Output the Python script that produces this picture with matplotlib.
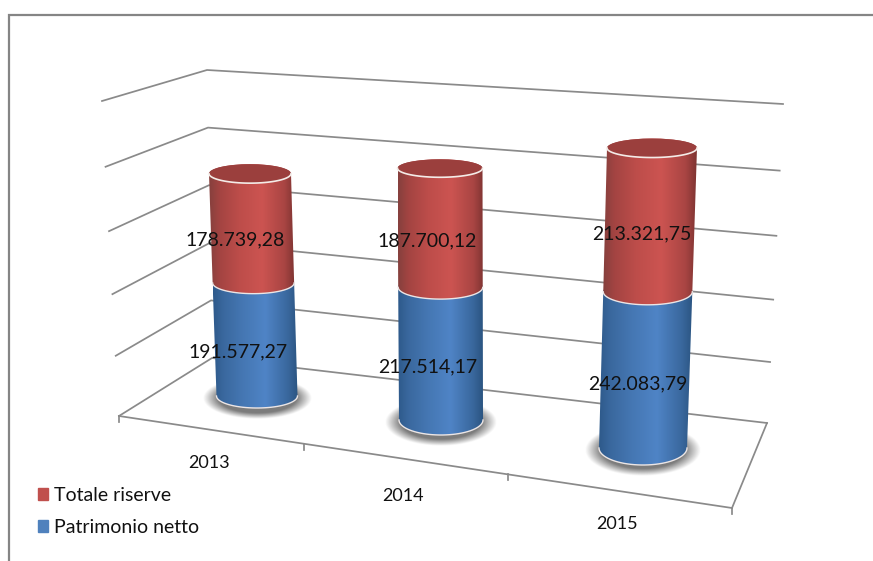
import numpy as np
import matplotlib
matplotlib.use("Agg")
import matplotlib.pyplot as plt
from matplotlib.colors import LinearSegmentedColormap
from matplotlib.patches import Ellipse, PathPatch, Patch
from matplotlib.path import Path

years = ["2013", "2014", "2015"]
patrimonio = [191577.27, 217514.17, 242083.79]
riserve = [178739.28, 187700.12, 213321.75]
names = ["Totale riserve", "Patrimonio netto"]
value_ticks = [0, 100000, 200000, 300000, 400000, 500000]

# layout in picture pixels: one entry per year
base_x = [257, 441, 643]
base_y = [396, 420, 448]
top_x = [250, 440, 652]
rx_base = [40.5, 42, 44]
rx_top = [41, 42.5, 45]
ry_base = [12, 15, 17]
ry_top = [9.5, 9, 9.5]
px_per_value = [5.79e-4, 5.97e-4, 6.30e-4]
persp = 1.0e-7
label_dx = [-17, -13, -8]
label_dy = [12, 13, 14]
year_pos = [(209, 463), (403, 496), (617, 524)]

GRID = "#8a8a8a"
STOPS = [0, .12, .35, .62, .88, 1]
RED_STOPS = ["#86403d", "#a34442", "#bd4d4a", "#cc5451", "#a94543", "#7f3432"]
BLUE_STOPS = ["#2e5a8b", "#3a689e", "#4577b3", "#4f84c6", "#3a689e", "#2b5582"]
RED = LinearSegmentedColormap.from_list("r", list(zip(STOPS, RED_STOPS)))
BLUE = LinearSegmentedColormap.from_list("b", list(zip(STOPS, BLUE_STOPS)))

plt.rcParams["font.family"] = ["Lato", "DejaVu Sans"]

fig = plt.figure(figsize=(8.73, 5.61), dpi=100)
ax = fig.add_axes([0, 0, 1, 1])
ax.axis("off")


def level(v, bottom, top, bow=0.055):
    t = v / value_ticks[-1]
    t = t - bow * t * (1 - t)
    return bottom[0] + (top[0] - bottom[0]) * t, bottom[1] + (top[1] - bottom[1]) * t


def fmt(v):
    return f"{v:,.2f}".replace(",", "#").replace(".", ",").replace("#", ".")


def arc(cx, cy, rx, ry, a0, a1, n=40):
    a = np.linspace(a0, a1, n)
    return np.column_stack([cx + rx * np.cos(a), cy + ry * np.sin(a)])


def segment(low, high, cmap, zorder):
    # low / high are (cx, cy, rx, ry) of the two rings, y grows downward
    front = arc(*low, np.pi, 0)
    back = arc(*high, 0, -np.pi)
    pts = np.vstack([front, back, front[:1]])
    patch = PathPatch(Path(pts), fc="none", ec="none", transform=ax.transData)
    ax.add_patch(patch)
    x0, x1 = pts[:, 0].min(), pts[:, 0].max()
    y0, y1 = pts[:, 1].min(), pts[:, 1].max()
    im = ax.imshow(np.linspace(0, 1, 128)[None, :], cmap=cmap, vmin=0, vmax=1,
                   extent=[x0, x1, y1, y0], aspect="auto", zorder=zorder,
                   interpolation="bilinear")
    im.set_clip_path(patch)
    ax.plot(front[:, 0], front[:, 1], color="#ece6e6", lw=1.0, zorder=zorder + 0.1)


def shadow(cx, cy, a, b):
    xx, yy = np.meshgrid(np.linspace(-1, 1, 220), np.linspace(-1, 1, 110))
    r = np.sqrt(xx ** 2 + yy ** 2)
    img = np.zeros(r.shape + (4,))
    img[..., :3] = 0.36
    img[..., 3] = np.clip((1 - r) / 0.28, 0, 1) * 0.8
    ax.imshow(img, extent=[cx - a, cx + a, cy + b, cy - b], aspect="auto", zorder=2,
              interpolation="bilinear")


# frame of the picture
ax.plot([8.5, 8.5, 873], [561, 14.5, 14.5], color="#858585", lw=1.6, zorder=1,
        solid_joinstyle="miter")

# walls: value gridlines
for v in value_ticks:
    xl, yl = level(v, (119, 416), (102, 101))
    xc, yc = level(v, (212, 358), (207, 70), bow=0)
    xr, yr = level(v, (767, 423), (783, 104))
    ax.plot([xl, xc, xr], [yl, yc, yr], color=GRID, lw=1.25, zorder=1)

# floor front edge, side edge and category ticks
front_x = [119, 732]
front_y = [416, 508]
ax.plot(front_x, front_y, color=GRID, lw=1.25, zorder=1)
ax.plot([732, 767], [508, 423], color=GRID, lw=1.25, zorder=1)
for tx in [119, 304, 508, 732]:
    ty = np.interp(tx, front_x, front_y)
    ax.plot([tx, tx], [ty, ty + 6], color=GRID, lw=1.25, zorder=1)

# cylinders, stacked from the values
for i, year in enumerate(years):
    total = patrimonio[i] + riserve[i]

    def ring(v):
        h = px_per_value[i] * v * (1 + persp * v)
        f = v / total
        return (base_x[i] + (top_x[i] - base_x[i]) * f,
                base_y[i] - h,
                rx_base[i] + (rx_top[i] - rx_base[i]) * f,
                ry_base[i] + (ry_top[i] - ry_base[i]) * f)

    r0, r1, r2 = ring(0), ring(patrimonio[i]), ring(total)
    shadow(r0[0], r0[1] + 2, r0[2] + 14, r0[3] + 9)
    segment(r0, r1, BLUE, 3)
    segment(r1, r2, RED, 4)
    ax.add_patch(Ellipse(r2[:2], 2 * r2[2], 2 * r2[3], fc="#9b3f3d", ec="none", zorder=5))
    front = arc(*r2, np.pi, 0)
    ax.plot(front[:, 0], front[:, 1], color="#f4ece8", lw=1.2, zorder=5.1)

    for low, high, v in [(r0, r1, patrimonio[i]), (r1, r2, riserve[i])]:
        ax.text((low[0] + high[0]) / 2 + label_dx[i], (low[1] + high[1]) / 2 + label_dy[i],
                fmt(v), fontsize=14, color="#111111", ha="center", va="center", zorder=6)
    ax.text(*year_pos[i], year, fontsize=13, color="#111111", ha="center", va="center", zorder=6)

handles = [Patch(color="#C0504D", label=names[0]), Patch(color="#4F81BD", label=names[1])]
ax.legend(handles=handles, loc="upper left", bbox_to_anchor=(32, 481), bbox_transform=ax.transData,
          frameon=False, fontsize=14, handlelength=0.52, handleheight=0.52, handletextpad=0.3,
          labelspacing=0.78, labelcolor="#111111", borderpad=0, borderaxespad=0.3)

ax.set_xlim(0, 873)
ax.set_ylim(561, 0)
fig.savefig("out.png", dpi=100, facecolor="white")
